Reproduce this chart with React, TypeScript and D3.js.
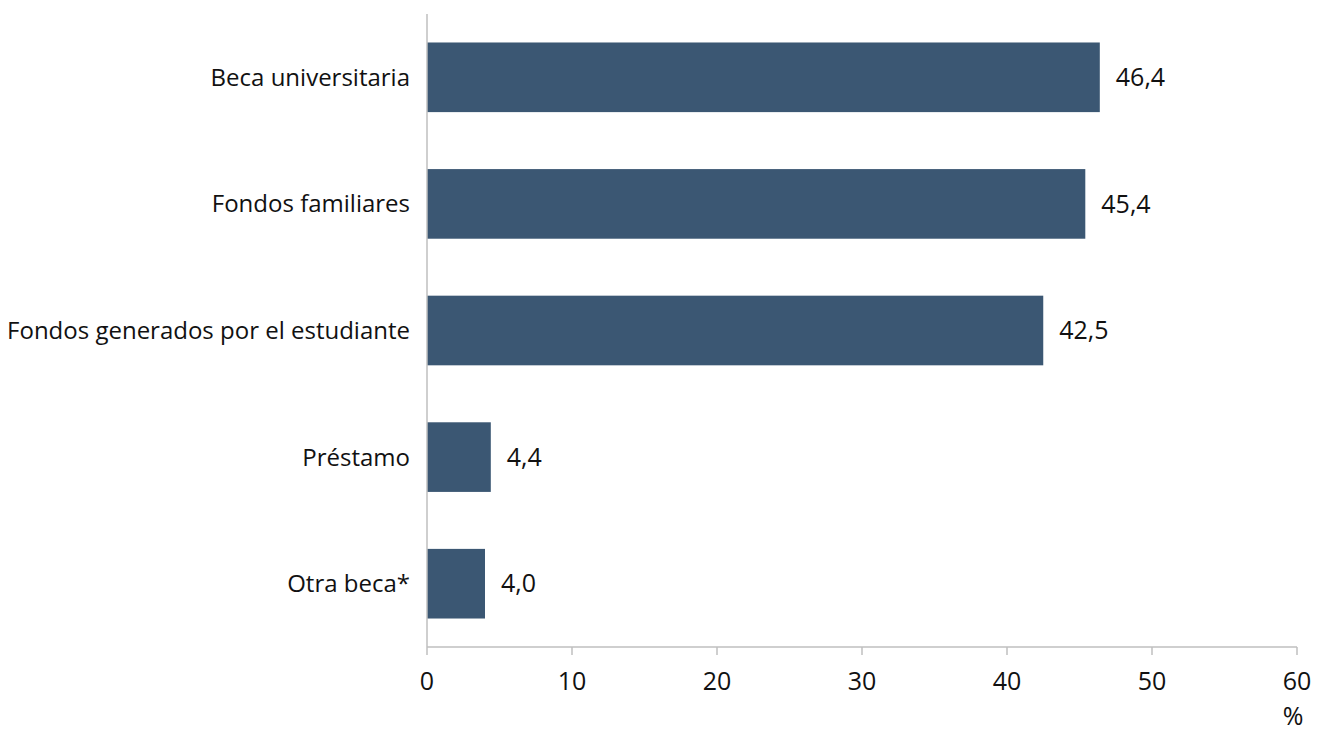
import * as d3 from "d3";

const categories = [
  "Beca universitaria",
  "Fondos familiares",
  "Fondos generados por el estudiante",
  "Préstamo",
  "Otra beca*",
];
const values = [46.4, 45.4, 42.5, 4.4, 4.0];
const ticks = [0, 10, 20, 30, 40, 50, 60];

export default function App() {
  const width = 1317;
  const height = 736;
  const marginLeft = 427;
  const marginRight = 20;
  const marginTop = 14;
  const axisY = 647;
  const font = "'Open Sans', sans-serif";
  const fsLabel = 24;
  const fsNum = 25;

  const x = d3.scaleLinear([0, 60], [marginLeft, width - marginRight]);
  const y = d3
    .scaleBand<string>()
    .domain(categories)
    .range([marginTop, axisY])
    .paddingInner(0.45)
    .paddingOuter(0.225);

  const fmt = (v: number) => v.toFixed(1).replace(".", ",");

  return (
    <svg
      width={width}
      height={height}
      style={{ position: "absolute", left: 0, top: 0, background: "#fff" }}
      fontFamily={font}
    >
      {/* bars */}
      {categories.map((c, i) => (
        <g key={c}>
          <rect
            x={x(0)}
            y={y(c)!}
            width={x(values[i]) - x(0)}
            height={y.bandwidth()}
            fill="#3b5773"
          />
          <text
            x={x(values[i]) + 16}
            y={y(c)! + y.bandwidth() / 2}
            dy="0.35em"
            fontSize={fsNum}
            fill="#111"
          >
            {fmt(values[i])}
          </text>
          <text
            x={410}
            y={y(c)! + y.bandwidth() / 2}
            dy="0.35em"
            fontSize={fsLabel}
            textAnchor="end"
            fill="#111"
          >
            {c}
          </text>
        </g>
      ))}

      {/* axes */}
      <line x1={x(0)} x2={x(0)} y1={marginTop} y2={axisY} stroke="#bfbfbf" strokeWidth={1.5} />
      <line x1={x(0)} x2={x(60)} y1={axisY} y2={axisY} stroke="#bfbfbf" strokeWidth={1.5} />
      {ticks.map((t) => (
        <g key={t}>
          <line x1={x(t)} x2={x(t)} y1={axisY} y2={axisY + 8} stroke="#bfbfbf" strokeWidth={1.5} />
          <text x={x(t)} y={681} dy="0.35em" fontSize={fsNum} textAnchor="middle" fill="#111">
            {t}
          </text>
        </g>
      ))}
      <text x={x(60) - 4} y={716} dy="0.35em" fontSize={fsNum} textAnchor="middle" fill="#111">
        %
      </text>
    </svg>
  );
}
